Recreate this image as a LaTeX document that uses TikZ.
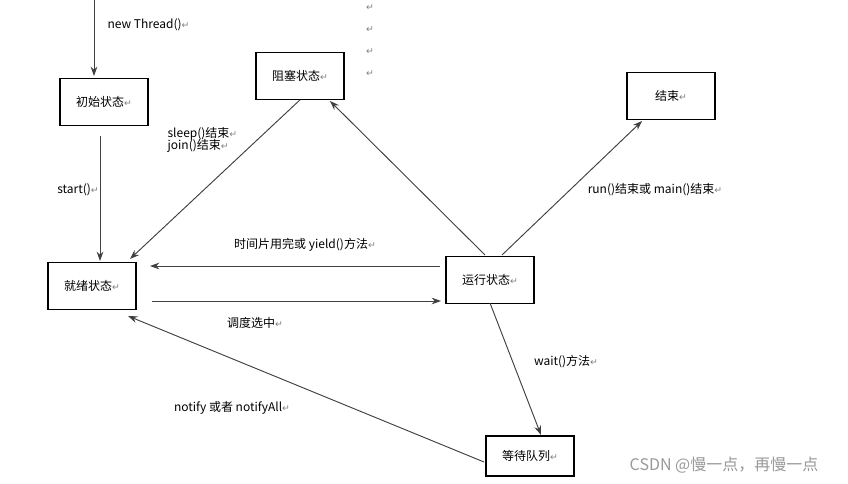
\documentclass[tikz,border=0pt]{standalone}
\usepackage{fontspec}
\setmainfont{Noto Sans CJK SC}
\newfontfamily\dvs{DejaVu Sans}
\usetikzlibrary{arrows.meta}
\newcommand{\rt}{{\dvs\color{gray}\scriptsize ↵}}
\begin{document}
\begin{tikzpicture}[x=0.75pt,y=-0.75pt,
  st/.style={draw,line width=0.8pt,minimum width=66pt,minimum height=35pt,inner sep=0pt,font=\small},
  ar/.style={-{Stealth[length=7pt,width=5pt]},line width=0.7pt,draw=black!75},
  lb/.style={font=\small,inner sep=1pt}]
\useasboundingbox (0,0) rectangle (848,484);
\fill[white] (0,0) rectangle (848,484);
\node[st] (init) at (104,102) {初始状态\rt};
\node[st] (block) at (300,76) {阻塞状态\rt};
\node[st] (end) at (671,96) {结束\rt};
\node[st] (ready) at (92,286) {就绪状态\rt};
\node[st] (run) at (490,280) {运行状态\rt};
\node[st,minimum height=30pt] (wait) at (530,456) {等待队列\rt};
\coordinate (top) at (94,0);
\draw[ar] (top) -- (94,76);
\node[lb,anchor=west] at (106,25) {new Thread()\rt};
\draw[ar] (init.south) ++(-4,10) -- (100,261);
\node[lb] at (78,190) {start()\rt};
\draw[ar] (block.south) -- (130,259);
\node[lb,anchor=west,align=left] at (166,140) {sleep()结束\rt\\[-2pt]join()结束\rt};
\draw[ar] (485,255) -- (330,101);
\draw[ar] (502,255) -- (642,121);
\node[lb] at (655,190) {run()结束或 main()结束\rt};
\draw[ar] (440,266) -- (150,266);
\node[lb] at (305,245) {时间片用完或 yield()方法\rt};
\draw[ar] (152,301) -- (441,301);
\node[lb] at (255,323) {调度选中\rt};
\draw[ar] (490,303) -- (541,435);
\node[lb] at (566,362) {wait()方法\rt};
\draw[ar] (484,462) -- (128,316);
\node[lb] at (232,408) {notify 或者 notifyAll\rt};
\foreach \y in {8,30,52,74} \node at (370,\y) {\rt};
\node[font=\large,text=gray!80] at (724,465) {CSDN @慢一点，再慢一点};
\end{tikzpicture}
\end{document}
